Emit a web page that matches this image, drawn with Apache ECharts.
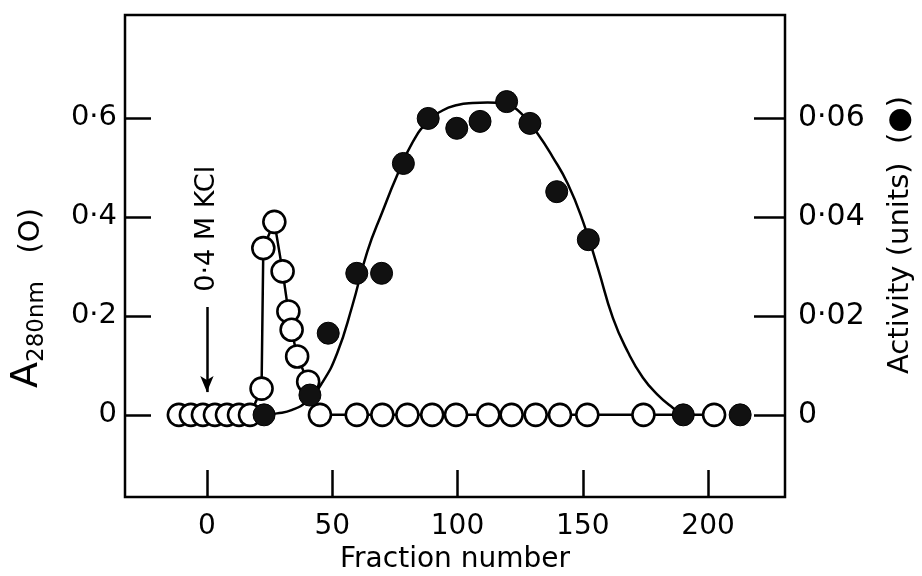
<!DOCTYPE html>
<html>
<head>
	<meta charset="utf-8">
	<title>Fraction profile</title>
	<script src="https://cdn.jsdelivr.net/npm/echarts@6/dist/echarts.min.js"></script>
	<style>
		html, body { margin: 0; padding: 0; background: #fff; }
		#chart { width: 922px; height: 576px; }
	</style>
</head>
<body>
	<div id="chart"></div>
	<script>
		// tick labels
		var fractionTicks = [0, 50, 100, 150, 200];
		var a280Ticks = [0, 0.2, 0.4, 0.6];
		var activityTicks = [0, 0.02, 0.04, 0.06];

		// A280 (open circles)
		var a280Fraction = [-11.2, -6.4, -1.6, 3.2, 8, 12.8, 17.2, 21.8, 22.5, 26.9, 30.2, 32.5, 33.8, 36, 40.4, 45.1,
			59.8, 70, 80, 89.9, 99.4, 112.3, 121.6, 131.2, 140.9, 151.8, 174.2, 202.4];
		var a280Value = [0, 0, 0, 0, 0, 0, 0, 0.053, 0.337, 0.39, 0.29, 0.209, 0.172, 0.118, 0.067, 0,
			0, 0, 0, 0, 0, 0, 0, 0, 0, 0, 0, 0];

		// activity (filled circles)
		var actFraction = [22.8, 41.1, 48.4, 59.8, 69.7, 78.4, 88.3, 99.7, 109, 119.6, 128.9, 139.6, 152.2, 190.1, 212.8];
		var actValue = [0, 0.004, 0.0165, 0.0286, 0.0286, 0.0508, 0.0599, 0.0579, 0.0593, 0.0633, 0.0589, 0.0451, 0.0354, 0, 0];

		// hand drawn activity curve
		var curveFraction = [22, 28, 34, 40, 46, 52, 58, 64, 70, 76, 82, 88, 94, 100, 106, 112,
			120, 126, 132, 138, 144, 150, 156, 162, 168, 174, 180, 186, 190];
		var curveValue = [0, 0.0003, 0.001, 0.0028, 0.0065, 0.0125, 0.022, 0.033, 0.041, 0.0485, 0.055, 0.0592, 0.0615, 0.0626, 0.063, 0.0631,
			0.0626, 0.0606, 0.0568, 0.0521, 0.0467, 0.0392, 0.0297, 0.0196, 0.0127, 0.0075, 0.004, 0.0014, 0];

		function pairs(xs, ys) {
			return xs.map(function(x, i) { return [x, ys[i]]; });
		}
		function dot(v) {
			return String(v).replace('.', '\u00b7');
		}

		var font = 'DejaVu Sans';
		var chart = echarts.init(document.getElementById('chart'));
		var option = {
			animation: false,
			backgroundColor: '#fff',
			textStyle: { fontFamily: font, color: '#000' },
			grid: {
				left: 125, right: 137, top: 15, bottom: 79,
				containLabel: false,
				outerBoundsMode: 'none',
				show: true, borderColor: '#000', borderWidth: 2.5
			},
			xAxis: {
				type: 'value',
				min: -32.7, max: 230.7,
				name: 'Fraction number',
				nameLocation: 'middle',
				nameGap: 44,
				nameTextStyle: { fontFamily: font, fontSize: 28, color: '#000' },
				axisLine: { show: false, onZero: false },
				splitLine: { show: false },
				axisTick: { inside: true, length: 27, customValues: fractionTicks, lineStyle: { color: '#000', width: 2.5 } },
				axisLabel: { customValues: fractionTicks, margin: 16, fontFamily: font, fontSize: 28, color: '#000' }
			},
			yAxis: [{
				type: 'value',
				min: -0.166, max: 0.808,
				name: '{a|A}{s|280nm}{c|   (O)}',
				nameLocation: 'middle',
				nameRotate: 90,
				nameGap: 79,
				nameTextStyle: {
					padding: [0, 84, 0, 0],
					rich: {
						a: { fontFamily: font, fontSize: 38, color: '#000', verticalAlign: 'bottom' },
						s: { fontFamily: font, fontSize: 23, color: '#000', verticalAlign: 'bottom', padding: [0, 0, -3, 0] },
						c: { fontFamily: font, fontSize: 29, color: '#000', verticalAlign: 'bottom' }
					}
				},
				axisLine: { show: false, onZero: false },
				splitLine: { show: false },
				axisTick: { inside: true, length: 26, customValues: a280Ticks, lineStyle: { color: '#000', width: 2.5 } },
				axisLabel: { customValues: a280Ticks, margin: 8, fontFamily: font, fontSize: 29, color: '#000', formatter: dot }
			}, {
				type: 'value',
				position: 'right',
				min: -0.0166, max: 0.0808,
				name: 'Activity (units)  (\u25cf)',
				nameLocation: 'middle',
				nameRotate: 90,
				nameGap: 101,
				nameTextStyle: { fontFamily: font, fontSize: 29, color: '#000', padding: [0, 0, 0, 42] },
				axisLine: { show: false, onZero: false },
				splitLine: { show: false },
				axisTick: { inside: true, length: 31, customValues: activityTicks, lineStyle: { color: '#000', width: 2.5 } },
				axisLabel: { customValues: activityTicks, margin: 13, fontFamily: font, fontSize: 30, color: '#000', formatter: dot }
			}],
			series: [{
				name: 'A280',
				type: 'line',
				yAxisIndex: 0,
				data: pairs(a280Fraction, a280Value),
				symbol: 'circle',
				symbolSize: 22,
				showAllSymbol: true,
				itemStyle: { color: '#fff', borderColor: '#000', borderWidth: 2.6 },
				lineStyle: { color: '#000', width: 2.5 },
				z: 3,
				markLine: {
					silent: true,
					symbol: ['none', 'arrow'],
					symbolSize: [10, 16],
					label: { show: false },
					lineStyle: { color: '#000', width: 2.5, type: 'solid' },
					data: [[{ coord: [0, 0.218] }, { coord: [0, 0.046] }]]
				},
				markPoint: {
					silent: true,
					symbol: 'circle',
					symbolSize: 0,
					label: {
						show: true,
						position: 'inside',
						rotate: 90,
						fontFamily: font,
						fontSize: 27,
						color: '#000',
						formatter: '0\u00b74 M KCl'
					},
					data: [{ coord: [0, 0.376] }]
				}
			}, {
				name: 'Activity curve',
				type: 'line',
				yAxisIndex: 1,
				data: pairs(curveFraction, curveValue),
				smooth: 0.5,
				showSymbol: false,
				lineStyle: { color: '#000', width: 2.5 },
				z: 2
			}, {
				name: 'Activity',
				type: 'scatter',
				yAxisIndex: 1,
				data: pairs(actFraction, actValue),
				symbol: 'circle',
				symbolSize: 22,
				itemStyle: { color: '#111', borderColor: '#000', borderWidth: 1, opacity: 1 },
				z: 4
			}]
		};
		chart.setOption(option);
	</script>
</body>
</html>
